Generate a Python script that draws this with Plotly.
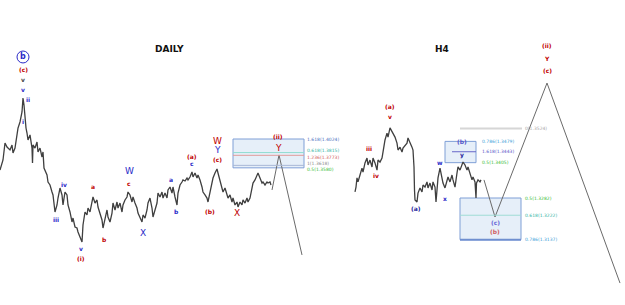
import plotly.graph_objects as go

# ---------------- DAILY data (bar index, price) ----------------
daily_bar = [0, 3, 5, 7, 10, 12, 13, 15, 18, 20, 22, 23, 24, 25, 26, 27, 28, 30, 32, 32.5, 33, 35, 37, 38, 40,
             42, 43, 44, 47, 48, 50, 52, 53, 55, 57, 58, 60, 62, 63, 65, 67, 68, 70, 72, 73, 75, 77, 78, 80,
             82, 83, 85, 87, 88, 90, 92, 93, 95, 97, 98, 100, 102, 103, 105, 107, 108, 110, 112, 113, 115,
             117, 118, 120, 122, 123, 125, 127, 128, 130, 132, 133, 135, 137, 138, 140, 142, 143, 145, 147,
             148, 150, 152, 153, 155, 157, 158, 160, 162, 163, 165, 167, 168, 170, 172, 173, 175, 177, 178,
             180, 182, 183, 185, 187, 188, 190, 192, 193, 195, 197, 198, 200, 202, 203, 205, 207, 208, 210,
             212, 213, 215, 217, 218, 220, 222, 223, 225, 227, 228, 230, 232, 233, 235, 237, 238, 240, 242,
             243, 245, 247, 248, 250, 252, 253, 255, 257, 258, 260, 262, 263, 265, 267, 268, 270, 271]
daily_price = [1.3547, 1.3701, 1.3962, 1.3901, 1.3855, 1.3932, 1.3808, 1.3885, 1.4193, 1.4286, 1.4440, 1.4655,
               1.4548, 1.4286, 1.4193, 1.4116, 1.4009, 1.4086, 1.3885, 1.3654, 1.3932, 1.3885, 1.3978, 1.3824,
               1.3885, 1.3747, 1.3824, 1.3577, 1.3470, 1.3362, 1.3316, 1.3208, 1.3162, 1.2900, 1.3008, 1.3115,
               1.3269, 1.3162, 1.3008, 1.3208, 1.3162, 1.3008, 1.2900, 1.2746, 1.2807, 1.2669, 1.2653, 1.2592,
               1.2515, 1.2438, 1.2700, 1.2900, 1.2854, 1.2961, 1.2900, 1.3085, 1.3131, 1.3038, 1.3085, 1.2977,
               1.2884, 1.2777, 1.2653, 1.2823, 1.2931, 1.2823, 1.2746, 1.2884, 1.3038, 1.2931, 1.3054, 1.2961,
               1.3038, 1.2900, 1.3008, 1.3085, 1.3131, 1.3208, 1.3162, 1.3054, 1.3131, 1.3038, 1.2961, 1.2884,
               1.2823, 1.2746, 1.2854, 1.2807, 1.2931, 1.3038, 1.3115, 1.2961, 1.2823, 1.2931, 1.3038, 1.3192,
               1.3131, 1.3208, 1.3115, 1.3192, 1.3115, 1.3239, 1.3285, 1.3192, 1.3285, 1.3131, 1.3008, 1.3192,
               1.3316, 1.3362, 1.3393, 1.3377, 1.3423, 1.3393, 1.3439, 1.3516, 1.3439, 1.3500, 1.3423, 1.3470,
               1.3393, 1.3285, 1.3208, 1.3162, 1.3115, 1.3054, 1.3192, 1.3316, 1.3423, 1.3500, 1.3562, 1.3500,
               1.3393, 1.3285, 1.3208, 1.3269, 1.3162, 1.3115, 1.3162, 1.3054, 1.3115, 1.3008, 1.3054, 1.2977,
               1.3054, 1.3008, 1.3085, 1.3038, 1.3115, 1.3054, 1.3115, 1.3239, 1.3346, 1.3393, 1.3470, 1.3500,
               1.3423, 1.3346, 1.3362, 1.3316, 1.3362, 1.3346, 1.3362, 1.3316]
daily_proj_bar = [272, 279, 302]
daily_proj_price = [1.3239, 1.3778, 1.2238]

daily_fib_ratio = ["1.618", "0.618", "1.236", "1", "0.5"]
daily_fib_price = [1.4024, 1.3815, 1.3773, 1.3618, 1.3580]
daily_fib_color = ["#4a6fc0", "#2fb3a3", "#d05a5a", "#8a8a8a", "#33bb33"]
daily_box_bars = [233, 304]

# wave labels (text, bar, price, color)
daily_labels = [
    ("(c)", 23, 1.5102, "#c00000"), ("v", 23, 1.4933, "#444444"), ("v", 23, 1.4794, "#2a2ac8"),
    ("ii", 28, 1.4640, "#2a2ac8"), ("i", 23, 1.4286, "#2a2ac8"),
    ("iv", 64, 1.3316, "#2a2ac8"), ("iii", 56, 1.2792, "#2a2ac8"), ("v", 81, 1.2345, "#2a2ac8"),
    ("(i)", 81, 1.2191, "#c00000"),
    ("a", 93, 1.3285, "#c00000"), ("b", 104, 1.2484, "#c00000"), ("c", 129, 1.3346, "#c00000"),
    ("a", 171, 1.3393, "#2a2ac8"), ("b", 176, 1.2915, "#2a2ac8"), ("c", 192, 1.3654, "#2a2ac8"),
    ("(a)", 192, 1.3762, "#c00000"), ("(b)", 210, 1.2915, "#c00000"), ("(c)", 217, 1.3701, "#c00000"),
    ("(ii)", 278, 1.4070, "#c00000"),
]
daily_big_labels = [
    ("W", 129, 1.3531, "#2a2ac8"), ("X", 143, 1.2576, "#2a2ac8"),
    ("W", 217, 1.3993, "#c00000"), ("Y", 217, 1.3855, "#2a2ac8"),
    ("X", 237, 1.2884, "#c00000"), ("Y", 278, 1.3885, "#c00000"),
]
circled_b = ("b", 23, 1.5287)

# ---------------- H4 data (bar index, price) ----------------
h4_bar = [0, 1, 2, 3, 5, 7, 8, 10, 12, 13, 15, 17, 18, 20, 22, 23, 25, 27, 28, 30, 32, 33, 35, 37, 38, 40,
          42, 43, 45, 47, 48, 50, 52, 53, 55, 57, 58, 59, 59.5, 60, 62, 63, 65, 67, 68, 70, 72, 73, 75, 77,
          78, 80, 81, 82, 83, 85, 87, 88, 90, 92, 93, 95, 97, 98, 100, 102, 103, 105, 107, 108, 110, 112,
          113, 115, 117, 118, 120, 121, 121.5, 123, 125, 126]
h4_price = [1.3303, 1.3320, 1.3352, 1.3338, 1.3362, 1.3386, 1.3372, 1.3404, 1.3421, 1.3397, 1.3414, 1.3390,
            1.3421, 1.3404, 1.3379, 1.3414, 1.3407, 1.3421, 1.3442, 1.3484, 1.3508, 1.3494, 1.3526, 1.3512,
            1.3508, 1.3494, 1.3473, 1.3449, 1.3459, 1.3442, 1.3456, 1.3466, 1.3473, 1.3491, 1.3477, 1.3459,
            1.3449, 1.3390, 1.3310, 1.3275, 1.3268, 1.3299, 1.3317, 1.3303, 1.3327, 1.3320, 1.3338, 1.3317,
            1.3334, 1.3310, 1.3338, 1.3320, 1.3268, 1.3327, 1.3352, 1.3386, 1.3355, 1.3334, 1.3317, 1.3338,
            1.3355, 1.3338, 1.3362, 1.3345, 1.3320, 1.3369, 1.3390, 1.3379, 1.3404, 1.3407, 1.3397, 1.3379,
            1.3390, 1.3369, 1.3345, 1.3355, 1.3338, 1.3282, 1.3334, 1.3345, 1.3338, 1.3345]
h4_proj_bar = [129, 140, 192, 265]
h4_proj_price = [1.3345, 1.3216, 1.3682, 1.2986]

h4_fib_upper_ratio = ["0.786", "1.618", "0.5"]
h4_fib_upper_price = [1.3479, 1.3443, 1.3405]
h4_fib_upper_color = ["#3aa0d8", "#5555c8", "#33bb33"]
h4_fib_lower_ratio = ["0", "0.5", "0.618", "0.786"]
h4_fib_lower_price = [1.3524, 1.3282, 1.3222, 1.3137]
h4_fib_lower_color = ["#a8a8a8", "#33bb33", "#2fb3a3", "#3aa0d8"]
h4_upper_box_bars = [90, 121]
h4_lower_box_bars = [105, 166]
h4_zero_line_bars = [105, 167]

h4_labels = [
    ("(ii)", 192, 1.3811, "#c00000"), ("Y", 192, 1.3766, "#c00000"), ("(c)", 192, 1.3724, "#c00000"),
    ("(a)", 35, 1.3599, "#c00000"), ("v", 35, 1.3567, "#c00000"), ("iii", 14, 1.3456, "#c00000"),
    ("iv", 21, 1.3359, "#c00000"), ("(a)", 61, 1.3244, "#22229a"), ("w", 85, 1.3407, "#2a2ac8"),
    ("x", 90, 1.3282, "#2a2ac8"), ("(b)", 107, 1.3477, "#5555c8"), ("y", 107, 1.3432, "#22229a"),
    ("(c)", 140, 1.3198, "#6a6ad8"), ("(b)", 140, 1.3164, "#d06060"),
]

# ---------------- figure ----------------
fig = go.Figure()
price_color = "#3f3f3f"
proj_color = "#6a6a6a"

fig.add_trace(go.Scatter(x=daily_bar, y=daily_price, mode="lines",
                         line=dict(color=price_color, width=1.3), xaxis="x", yaxis="y"))
fig.add_trace(go.Scatter(x=daily_proj_bar, y=daily_proj_price, mode="lines",
                         line=dict(color=proj_color, width=1), xaxis="x", yaxis="y"))
fig.add_trace(go.Scatter(x=h4_bar, y=h4_price, mode="lines",
                         line=dict(color=price_color, width=1.3), xaxis="x2", yaxis="y2"))
fig.add_trace(go.Scatter(x=h4_proj_bar, y=h4_proj_price, mode="lines",
                         line=dict(color=proj_color, width=1), xaxis="x2", yaxis="y2"))

box_fill = "rgba(200,220,242,0.45)"
box_line = "#7f9fd6"
lab_font = "DejaVu Sans"

# DAILY fib box
fig.add_shape(type="rect", xref="x", yref="y", x0=daily_box_bars[0], x1=daily_box_bars[1],
              y0=daily_fib_price[4], y1=daily_fib_price[0],
              fillcolor=box_fill, line=dict(color=box_line, width=1), layer="below")
for p, c in zip(daily_fib_price[1:4], ["#8fdcd2", "#e09a9a", "#a9b8d6"]):
    fig.add_shape(type="line", xref="x", yref="y", x0=daily_box_bars[0], x1=daily_box_bars[1],
                  y0=p, y1=p, line=dict(color=c, width=1))
daily_shift = [0, 2, -2, 2, -2]
for r, p, c, s in zip(daily_fib_ratio, daily_fib_price, daily_fib_color, daily_shift):
    fig.add_annotation(x=daily_box_bars[1] + 1, y=p, xref="x", yref="y", text=f"{r}({p:.4f})",
                       showarrow=False, xanchor="left", yanchor="middle", yshift=s,
                       font=dict(size=4.5, color=c, family=lab_font))

# H4 boxes
fig.add_shape(type="rect", xref="x2", yref="y2", x0=h4_upper_box_bars[0], x1=h4_upper_box_bars[1],
              y0=h4_fib_upper_price[2], y1=h4_fib_upper_price[0],
              fillcolor=box_fill, line=dict(color=box_line, width=1), layer="below")
fig.add_shape(type="line", xref="x2", yref="y2", x0=h4_upper_box_bars[0] + 7, x1=h4_upper_box_bars[1],
              y0=h4_fib_upper_price[1], y1=h4_fib_upper_price[1], line=dict(color="#6868c8", width=1))
fig.add_shape(type="rect", xref="x2", yref="y2", x0=h4_lower_box_bars[0], x1=h4_lower_box_bars[1],
              y0=h4_fib_lower_price[3], y1=h4_fib_lower_price[1],
              fillcolor=box_fill, line=dict(color=box_line, width=1), layer="below")
fig.add_shape(type="line", xref="x2", yref="y2", x0=h4_lower_box_bars[0], x1=h4_lower_box_bars[1],
              y0=h4_fib_lower_price[3], y1=h4_fib_lower_price[3], line=dict(color="#6f8fd0", width=2))
fig.add_shape(type="line", xref="x2", yref="y2", x0=h4_lower_box_bars[0], x1=h4_lower_box_bars[1],
              y0=h4_fib_lower_price[2], y1=h4_fib_lower_price[2], line=dict(color="#9fdcd6", width=1))
fig.add_shape(type="line", xref="x2", yref="y2", x0=h4_zero_line_bars[0], x1=h4_zero_line_bars[1],
              y0=h4_fib_lower_price[0], y1=h4_fib_lower_price[0], line=dict(color="#d6d6d6", width=2))
for r, p, c in zip(h4_fib_upper_ratio, h4_fib_upper_price, h4_fib_upper_color):
    fig.add_annotation(x=h4_upper_box_bars[1] + 4, y=p, xref="x2", yref="y2", text=f"{r}({p:.4f})",
                       showarrow=False, xanchor="left", yanchor="middle",
                       font=dict(size=4.5, color=c, family=lab_font))
for r, p, c in zip(h4_fib_lower_ratio, h4_fib_lower_price, h4_fib_lower_color):
    fig.add_annotation(x=h4_zero_line_bars[1] + 1, y=p, xref="x2", yref="y2", text=f"{r}({p:.4f})",
                       showarrow=False, xanchor="left", yanchor="middle",
                       font=dict(size=4.5, color=c, family=lab_font))

# wave labels
for t, b, p, c in daily_labels:
    fig.add_annotation(x=b, y=p, xref="x", yref="y", text=f"<b>{t}</b>", showarrow=False,
                       font=dict(size=6, color=c, family=lab_font))
for t, b, p, c in daily_big_labels:
    fig.add_annotation(x=b, y=p, xref="x", yref="y", text=t, showarrow=False,
                       font=dict(size=9, color=c, family=lab_font))
for t, b, p, c in h4_labels:
    fig.add_annotation(x=b, y=p, xref="x2", yref="y2", text=f"<b>{t}</b>", showarrow=False,
                       font=dict(size=6, color=c, family=lab_font))

# circled b
fig.add_annotation(x=circled_b[1], y=circled_b[2], xref="x", yref="y", text=f"<b>{circled_b[0]}</b>",
                   showarrow=False, font=dict(size=8, color="#2a2ac8", family=lab_font))
fig.add_shape(type="circle", xref="x", yref="y", x0=circled_b[1] - 6, x1=circled_b[1] + 6,
              y0=circled_b[2] - 0.0092, y1=circled_b[2] + 0.0092, line=dict(color="#2a2ac8", width=1))

# panel titles
fig.add_annotation(x=153 / 625, y=1 - 42 / 305, xref="paper", yref="paper", text="<b>DAILY</b>",
                   showarrow=False, font=dict(size=9, color="#111111", family=lab_font))
fig.add_annotation(x=451 / 625, y=1 - 42 / 305, xref="paper", yref="paper", text="<b>H4</b>",
                   showarrow=False, font=dict(size=9, color="#111111", family=lab_font))

fig.update_layout(
    width=625, height=305,
    margin=dict(l=0, r=0, t=0, b=0, pad=0),
    paper_bgcolor="white", plot_bgcolor="white",
    showlegend=False,
    xaxis=dict(range=[0, 625], visible=False, domain=[0, 1]),
    yaxis=dict(range=[1.14676, 1.61646], visible=False, domain=[0, 1]),
    xaxis2=dict(range=[-355, 270], visible=False, overlaying="x", anchor="y2"),
    yaxis2=dict(range=[1.290964, 1.397104], visible=False, overlaying="y", anchor="x2"),
)

fig.write_html("out.html")
